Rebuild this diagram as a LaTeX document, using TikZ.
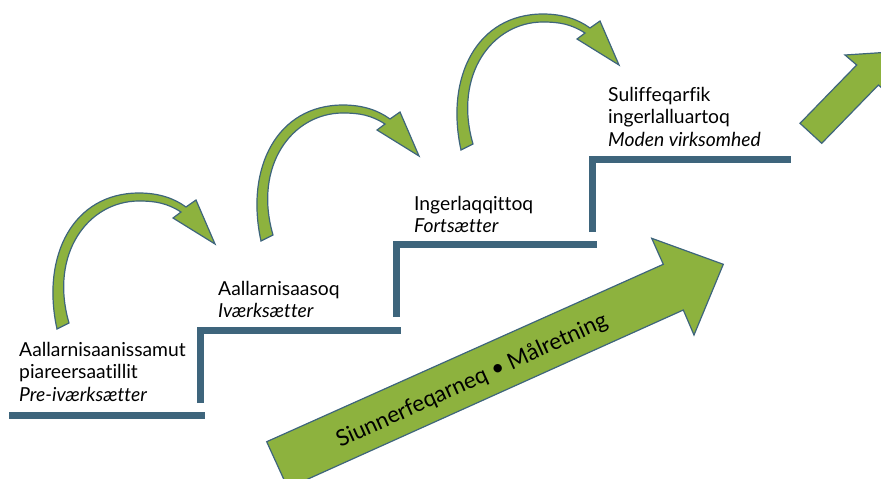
\documentclass[tikz,border=0pt]{standalone}
\usepackage{fontspec}
\setmainfont{Lato}[Ligatures=NoCommon]
\definecolor{gruen}{RGB}{141,178,62}
\definecolor{petrol}{RGB}{62,101,124}
\begin{document}
\begin{tikzpicture}[x=1pt,y=-1pt,
    stair/.style={petrol, line width=7pt},
    pfeil/.style={fill=gruen, draw=petrol, line width=1.2pt},
    stufe/.style={anchor=north west, inner sep=0pt, align=left, font=\fontsize{19.3}{22.5}\selectfont}]
  \useasboundingbox (0,0) rectangle (881,479);
  \clip (0,0) rectangle (881,479);
  % Treppe
  \draw[stair] (9,415) -- (205,415);
  \draw[stair] (200.5,403) -- (200.5,330) -- (401,330);
  \draw[stair] (396.5,317) -- (396.5,244) -- (597,244);
  \draw[stair] (592,232) -- (592,159) -- (791,159);
  % Stufen
  \node[stufe] (pre) at (19,342) {Aallarnisaanissamut\\piareersaatillit\\\textit{Pre-iværksætter}};
  \node[stufe] (ivaerk) at (218,281) {Aallarnisaasoq\\\textit{Iværksætter}};
  \node[stufe] (fort) at (414,196) {Ingerlaqqittoq\\\textit{Fortsætter}};
  \node[stufe] (moden) at (608,87) {Suliffeqarfik\\ingerlalluartoq\\\textit{Moden virksomhed}};
  % Bogenpfeile
  \foreach \p in {(63,326),(267,238),(467,147)}
    \filldraw[pfeil, shift={\p}] (-6,3) .. controls (-22,-70) and (10,-133) .. (76,-133)
      .. controls (97,-133) and (112,-127) .. (123,-119)
      -- (133,-126) -- (152,-82) -- (110,-108) -- (118,-114)
      .. controls (104,-123) and (92,-125) .. (76,-125)
      .. controls (25,-125) and (-14,-72) .. (6,-3) -- cycle;
  % grosser Pfeil
  \filldraw[pfeil] (266.7,441.7) -- (663.3,264.3) -- (651.7,238.3) -- (723.3,264.3)
    -- (694,335) -- (683.3,310) -- (287.8,488.1) -- cycle;
  \node[rotate=24.4, font=\fontsize{22.5}{26}\selectfont] (ziel) at (472,381) {Siunnerfeqarneq • Målretning};
  % Pfeil rechts oben
  \filldraw[pfeil] (800,123.3) -- (856.7,65) -- (845,55) -- (889.8,52.1)
    -- (890.1,95) -- (878.4,85) -- (821.7,143.3) -- cycle;
\end{tikzpicture}
\end{document}
